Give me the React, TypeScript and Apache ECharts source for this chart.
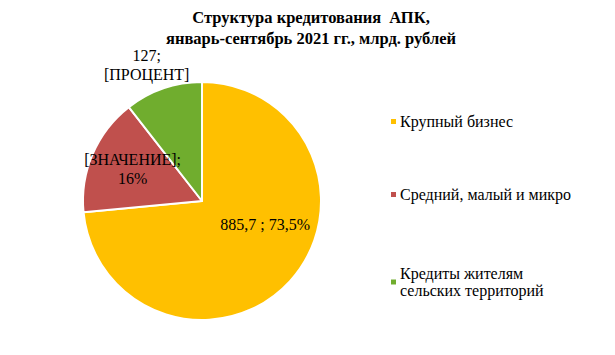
import React, { useEffect, useRef } from "react";
import * as echarts from "echarts";

const titleLines = ["Структура кредитования  АПК,", "январь-сентябрь 2021 гг., млрд. рублей"];
const categories = ["Крупный бизнес", "Средний, малый и микро", "Кредиты жителям\nсельских территорий"];
const values = [885.7, 192.3, 127];
const labelTexts = ["885,7 ; 73,5%", "[ЗНАЧЕНИЕ];\n16%", "127;\n[ПРОЦЕНТ]"];
const colors = ["#FFC000", "#C0504D", "#70AD2E"];

const labelShift = [
  [17, -19],
  [-12, -7],
  [-35, -77],
];
const legendTops = [108, 181, 260];

export default function App() {
  const ref = useRef<HTMLDivElement>(null);
  useEffect(() => {
    if (!ref.current) return;
    const chart = echarts.init(ref.current, undefined, { renderer: "svg" });
    const font = "Liberation Serif";
    chart.setOption({
      animation: false,
      backgroundColor: "#ffffff",
      textStyle: { fontFamily: font },
      title: {
        text: titleLines.join("\n"),
        left: 306,
        textAlign: "center",
        top: 2,
        textStyle: {
          fontFamily: font,
          fontWeight: "bold",
          fontSize: 16.5,
          lineHeight: 21,
          color: "#000",
        },
      },
      legend: categories.map((c, i) => ({
        data: [c],
        orient: "vertical",
        left: 384,
        top: legendTops[i],
        itemWidth: 7,
        itemHeight: 7,
        itemGap: 6,
        icon: "rect",
        textStyle: {
          fontFamily: font,
          fontSize: 16,
          lineHeight: 17,
          color: "#000",
          padding: [0, 0, 0, -2],
        },
        selectedMode: false,
      })),
      series: [
        {
          type: "pie",
          center: [202, 201],
          radius: 119,
          startAngle: 90,
          clockwise: true,
          itemStyle: { borderColor: "#fff", borderWidth: 2 },
          label: {
            position: "inside",
            fontFamily: font,
            fontSize: 16,
            lineHeight: 19,
            color: "#000",
            align: "center",
            formatter: (p: any) => labelTexts[p.dataIndex],
          },
          labelLine: { show: false },
          labelLayout: (p: any) => ({
            dx: labelShift[p.dataIndex][0],
            dy: labelShift[p.dataIndex][1],
          }),
          data: categories.map((c, i) => ({
            name: c,
            value: values[i],
            itemStyle: { color: colors[i] },
          })),
        },
      ],
    });
    return () => chart.dispose();
  }, []);
  return <div ref={ref} style={{ width: 615, height: 355, margin: -8 }} />;
}
